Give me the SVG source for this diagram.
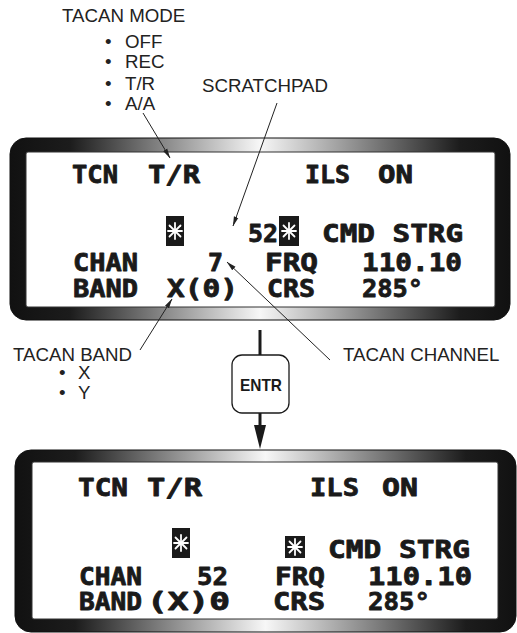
<svg xmlns="http://www.w3.org/2000/svg" width="517" height="633" viewBox="0 0 517 633">
<style>
.lbl{font-family:"Liberation Sans",Arial,sans-serif;font-size:18.7px;fill:#222}
.dsp{font-family:"DejaVu Sans Mono","Liberation Mono",monospace;font-weight:bold;font-size:24px;fill:#1a1a1a;stroke:#1a1a1a;stroke-width:0.8;stroke-linejoin:round}
.lead{stroke:#222;stroke-width:1;fill:none}
.star{stroke:#fff;stroke-width:1.8;stroke-linecap:round}
</style>
<defs>
<linearGradient id="bezel" x1="0" y1="0" x2="1" y2="0">
<stop offset="0" stop-color="#111"/>
<stop offset="0.12" stop-color="#1c1c1c"/>
<stop offset="0.5" stop-color="#f7f7f7"/>
<stop offset="0.9" stop-color="#1c1c1c"/>
<stop offset="1" stop-color="#111"/>
</linearGradient>
<marker id="arr" markerWidth="10" markerHeight="6" refX="9.5" refY="3" orient="auto" markerUnits="userSpaceOnUse">
<path d="M0,0.6 L10,3 L0,5.4 Z" fill="#222"/>
</marker>
<g id="asterisk">
<line class="star" x1="0" y1="-8" x2="0" y2="8"/>
<line class="star" x1="-7" y1="0" x2="7" y2="0"/>
<line class="star" x1="-5.5" y1="-5.5" x2="5.5" y2="5.5"/>
<line class="star" x1="-5.5" y1="5.5" x2="5.5" y2="-5.5"/>
</g>
</defs>

<g id="labels">
<text class="lbl" x="62" y="22">TACAN MODE</text>
<text class="lbl"><tspan x="105" y="48">•</tspan><tspan x="125" y="48">OFF</tspan></text>
<text class="lbl"><tspan x="105" y="68">•</tspan><tspan x="125" y="68">REC</tspan></text>
<text class="lbl"><tspan x="105" y="90">•</tspan><tspan x="125" y="90">T/R</tspan></text>
<text class="lbl"><tspan x="105" y="110">•</tspan><tspan x="125" y="110">A/A</tspan></text>
<text class="lbl" x="202" y="92">SCRATCHPAD</text>
<text class="lbl" x="13" y="361">TACAN BAND</text>
<text class="lbl"><tspan x="59" y="379">•</tspan><tspan x="78" y="379">X</tspan></text>
<text class="lbl"><tspan x="59" y="399">•</tspan><tspan x="78" y="399">Y</tspan></text>
<text class="lbl" x="343" y="361">TACAN CHANNEL</text>
</g>

<g id="panel-before">
<rect x="10" y="138" width="500" height="182" rx="16" fill="url(#bezel)" stroke="#111" stroke-width="1"/>
<rect x="26" y="152" width="469" height="155" rx="2" fill="#fff" stroke="#333" stroke-width="1"/>
<text class="dsp" x="72" y="183" textLength="46" lengthAdjust="spacingAndGlyphs">TCN</text>
<text class="dsp" x="148" y="183" textLength="52" lengthAdjust="spacingAndGlyphs">T/R</text>
<text class="dsp" x="305" y="183" textLength="45" lengthAdjust="spacingAndGlyphs">ILS</text>
<text class="dsp" x="378" y="183" textLength="35" lengthAdjust="spacingAndGlyphs">ON</text>
<rect x="166" y="216" width="18" height="30" fill="#1a1a1a"/>
<use href="#asterisk" x="175" y="231"/>
<text class="dsp" x="248" y="242" textLength="30" lengthAdjust="spacingAndGlyphs">52</text>
<rect x="279" y="216" width="20" height="30" fill="#1a1a1a"/>
<use href="#asterisk" x="289" y="231"/>
<text class="dsp" x="322" y="242" textLength="141" lengthAdjust="spacingAndGlyphs">CMD STRG</text>
<text class="dsp" x="73" y="271" textLength="65" lengthAdjust="spacingAndGlyphs">CHAN</text>
<text class="dsp" x="208" y="271" textLength="15" lengthAdjust="spacingAndGlyphs">7</text>
<text class="dsp" x="265" y="271" textLength="53" lengthAdjust="spacingAndGlyphs">FRQ</text>
<text class="dsp" x="362" y="271" textLength="100" lengthAdjust="spacingAndGlyphs">110.10</text>
<text class="dsp" x="73" y="297" textLength="65" lengthAdjust="spacingAndGlyphs">BAND</text>
<text class="dsp" x="167" y="297" textLength="71" lengthAdjust="spacingAndGlyphs">X(0)</text>
<text class="dsp" x="267" y="297" textLength="48" lengthAdjust="spacingAndGlyphs">CRS</text>
<text class="dsp" x="362" y="297" textLength="61" lengthAdjust="spacingAndGlyphs">285°</text>
</g>

<g id="entr">
<rect x="232" y="355" width="57" height="58" rx="10" fill="#fff" stroke="#1a1a1a" stroke-width="1.3"/>
<text x="261" y="391" text-anchor="middle" font-family="Liberation Sans,Arial,sans-serif" font-weight="bold" font-size="17" fill="#1a1a1a" textLength="42" lengthAdjust="spacingAndGlyphs">ENTR</text>
</g>

<g id="panel-after">
<rect x="15" y="450" width="501" height="182" rx="16" fill="url(#bezel)" stroke="#111" stroke-width="1"/>
<rect x="32" y="462" width="466" height="157" rx="2" fill="#fff" stroke="#333" stroke-width="1"/>
<text class="dsp" x="78" y="496" textLength="50" lengthAdjust="spacingAndGlyphs">TCN</text>
<text class="dsp" x="147" y="496" textLength="55" lengthAdjust="spacingAndGlyphs">T/R</text>
<text class="dsp" x="310" y="496" textLength="49" lengthAdjust="spacingAndGlyphs">ILS</text>
<text class="dsp" x="382" y="496" textLength="36" lengthAdjust="spacingAndGlyphs">ON</text>
<rect x="172" y="528" width="18" height="30" fill="#1a1a1a"/>
<use href="#asterisk" x="181" y="543"/>
<rect x="285" y="536" width="20" height="22" fill="#1a1a1a"/>
<use href="#asterisk" x="295" y="547"/>
<text class="dsp" x="328" y="558" textLength="142" lengthAdjust="spacingAndGlyphs">CMD STRG</text>
<text class="dsp" x="79" y="585" textLength="63" lengthAdjust="spacingAndGlyphs">CHAN</text>
<text class="dsp" x="197" y="585" textLength="31" lengthAdjust="spacingAndGlyphs">52</text>
<text class="dsp" x="275" y="585" textLength="50" lengthAdjust="spacingAndGlyphs">FRQ</text>
<text class="dsp" x="368" y="585" textLength="104" lengthAdjust="spacingAndGlyphs">110.10</text>
<text class="dsp" x="79" y="610" textLength="63" lengthAdjust="spacingAndGlyphs">BAND</text>
<text class="dsp" x="147" y="610" textLength="83" lengthAdjust="spacingAndGlyphs">(X)0</text>
<text class="dsp" x="273" y="610" textLength="52" lengthAdjust="spacingAndGlyphs">CRS</text>
<text class="dsp" x="368" y="610" textLength="62" lengthAdjust="spacingAndGlyphs">285°</text>
</g>

<g id="connectors">
<line class="lead" x1="143" y1="113" x2="170" y2="158" marker-end="url(#arr)"/>
<line class="lead" x1="277" y1="103" x2="233" y2="226" marker-end="url(#arr)"/>
<line class="lead" x1="330" y1="360" x2="227" y2="262" marker-end="url(#arr)"/>
<line class="lead" x1="140" y1="350" x2="172" y2="299" marker-end="url(#arr)"/>
<line x1="260" y1="330" x2="260" y2="355" stroke="#1a1a1a" stroke-width="3"/>
<line x1="260" y1="413" x2="260" y2="428" stroke="#1a1a1a" stroke-width="3"/>
<polygon points="254,425 266,425 260,449" fill="#1a1a1a"/>
</g>
</svg>
